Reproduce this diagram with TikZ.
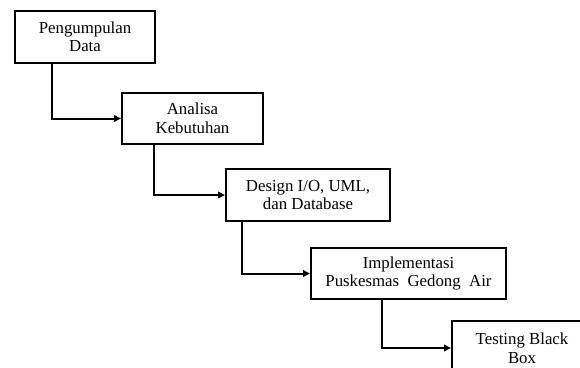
\documentclass[tikz,border=0pt]{standalone}
\usepackage{fontspec}
\setmainfont{Liberation Serif}
\usetikzlibrary{arrows.meta}
\begin{document}
\begin{tikzpicture}[x=1pt,y=-1pt,
  box/.style={draw, line width=2pt, anchor=north west, align=center, inner sep=0pt,
    font=\fontsize{16.8}{18.5}\selectfont},
  conn/.style={line width=2pt, -{Triangle[length=7pt,width=6.5pt]}}]
\useasboundingbox (0,0) rectangle (580,367);
\clip (0,0) rectangle (580,367);
\node[box, minimum width=140pt, minimum height=52pt] (a) at (14,10) {Pengumpulan\\Data};
\node[box, minimum width=141pt, minimum height=51pt] (b) at (121,92) {Analisa\\Kebutuhan};
\node[box, minimum width=164pt, minimum height=52pt] (c) at (225,168) {Design I/O, UML,\\dan Database};
\node[box, minimum width=195pt, minimum height=51pt] (d) at (310,247) {Implementasi\\Puskesmas\ \ Gedong\ \ Air};
\node[box, minimum width=140pt, minimum height=54pt] (e) at (451,320) {Testing\ Black\\Box};
\draw[conn] ([xshift=38pt]a.south west) |- (b.west);
\draw[conn] ([xshift=33pt]b.south west) |- (c.west);
\draw[conn] ([xshift=17pt]c.south west) |- (d.west);
\draw[conn] ([xshift=72pt]d.south west) |- (e.west);
\end{tikzpicture}
\end{document}
